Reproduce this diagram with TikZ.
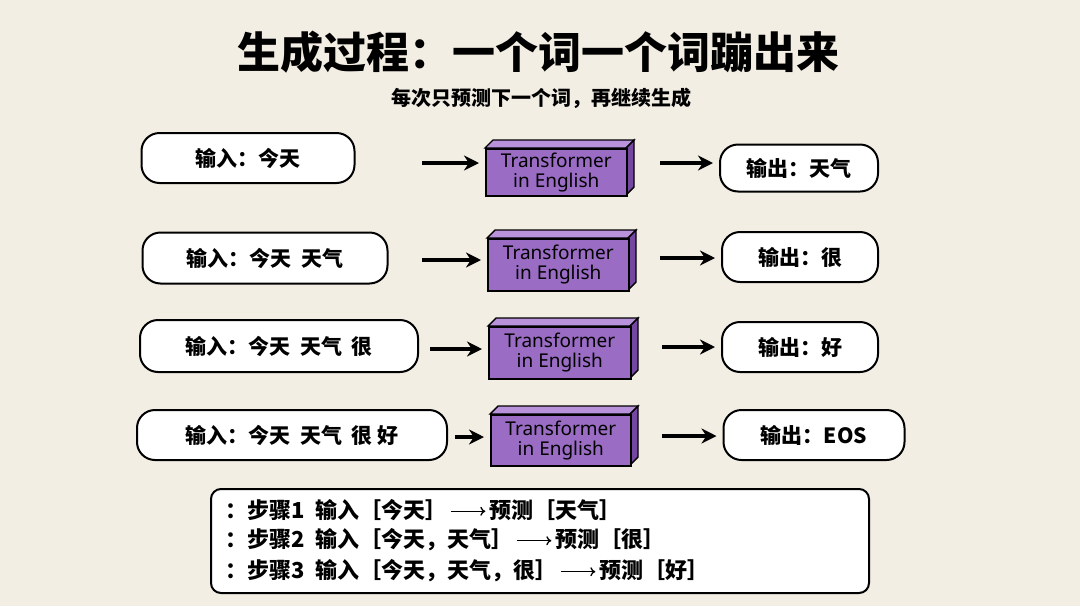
\documentclass[tikz,border=0pt]{standalone}
\usepackage{fontspec}
\setmainfont{Noto Sans CJK SC}
\newfontfamily\latn{Noto Sans}
\usetikzlibrary{arrows.meta,calc}
\definecolor{bg}{HTML}{F3EEE4}
\definecolor{pf}{HTML}{9A6CC4}
\definecolor{pt}{HTML}{B892DA}
\definecolor{ps}{HTML}{7448A0}
\tikzset{
 pill/.style={draw=black,line width=2pt,rounded corners=18pt,fill=white,inner sep=0pt,font=\bfseries\fontsize{21pt}{23pt}\selectfont},
 arr/.style={-{Stealth[length=15pt,width=15pt]},line width=3.5pt},
 tf/.style={draw=black,line width=1.6pt,fill=pf,inner sep=0pt,align=center,font=\latn\fontsize{19pt}{20pt}\selectfont,text=black},
}
\newcommand{\cube}[5]{% name, x1,y1,x2,y2
 \fill[pt,draw=black,line width=1.4pt] (#2,#3) -- ++(8,-8) -- (#4+8,#3-8) -- (#4,#3) -- cycle;
 \fill[ps,draw=black,line width=1.4pt] (#4,#3) -- ++(8,-8) -- (#4+8,#5-8) -- (#4,#5) -- cycle;
 \node[tf,minimum width=#4pt-#2pt,minimum height=#5pt-#3pt,anchor=north west] (#1) at (#2,#3) {Transformer\\in English};
}
\newcommand{\harr}[3]{% from x, to node (west), y
 \draw[arr] (#1,#3) -- ($(#2.west |- 0,#3)+(-6,0)$);
}
\newcommand{\larr}{\,\tikz[baseline=-0.6ex]\draw[-{To[length=5pt,width=9pt]},line width=1.3pt](0,0)--(34pt,0);\,}
\begin{document}
\begin{tikzpicture}[x=1pt,y=-1pt]
\fill[bg] (0,0) rectangle (1080,606);
\useasboundingbox (0,0) rectangle (1080,606);
\node[font=\bfseries\fontsize{43pt}{46pt}\selectfont] (title) at (538,52) {生成过程：一个词一个词蹦出来};
\node[font=\bfseries\fontsize{20pt}{22pt}\selectfont] (sub) at (541,98) {每次只预测下一个词，再继续生成};
% row 1
\node[pill,minimum width=213pt,minimum height=50pt] (i1) at (248,158) {输入：今天};
\cube{t1}{485}{148}{626}{195}
\node[pill,minimum width=158pt,minimum height=47pt] (o1) at (799,168) {输出：天气};
\harr{422}{t1}{163}
\harr{660}{o1}{163}
% row 2
\node[pill,minimum width=245pt,minimum height=51pt] (i2) at (265,258) {输入：今天\ \ 天气};
\cube{t2}{487}{238}{628}{290}
\node[pill,minimum width=156pt,minimum height=50pt] (o2) at (800,257) {输出：很};
\harr{422}{t2}{260}
\harr{660}{o2}{258}
% row 3
\node[pill,minimum width=278pt,minimum height=52pt] (i3) at (279,346) {输入：今天\ \ 天气\ \ 很};
\cube{t3}{488}{326}{630}{378}
\node[pill,minimum width=156pt,minimum height=50pt] (o3) at (800,347) {输出：好};
\harr{430}{t3}{349}
\harr{662}{o3}{347}
% row 4
\node[pill,minimum width=310pt,minimum height=50pt] (i4) at (292,435) {输入：今天\ \ 天气\ \ 很\ 好};
\cube{t4}{490}{414}{630}{465}
\node[pill,minimum width=181pt,minimum height=50pt] (o4) at (814,435) {输出：EOS};
\harr{455}{t4}{437}
\harr{662}{o4}{436}
% bottom box
\node[draw=black,line width=2pt,rounded corners=10pt,fill=white,minimum width=658pt,minimum height=104pt,anchor=north west] (box) at (210,488) {};
\begin{scope}[every node/.style={anchor=west,font=\bfseries\fontsize{22pt}{24pt}\selectfont}]
\node (l1) at (222,510) {：步骤1\ \ 输入［今天］\larr 预测［天气］};
\node (l2) at (222,540) {：步骤2\ \ 输入［今天，天气］\larr 预测［很］};
\node (l3) at (222,571) {：步骤3\ \ 输入［今天，天气，很］\larr 预测［好］};
\end{scope}
\end{tikzpicture}
\end{document}
